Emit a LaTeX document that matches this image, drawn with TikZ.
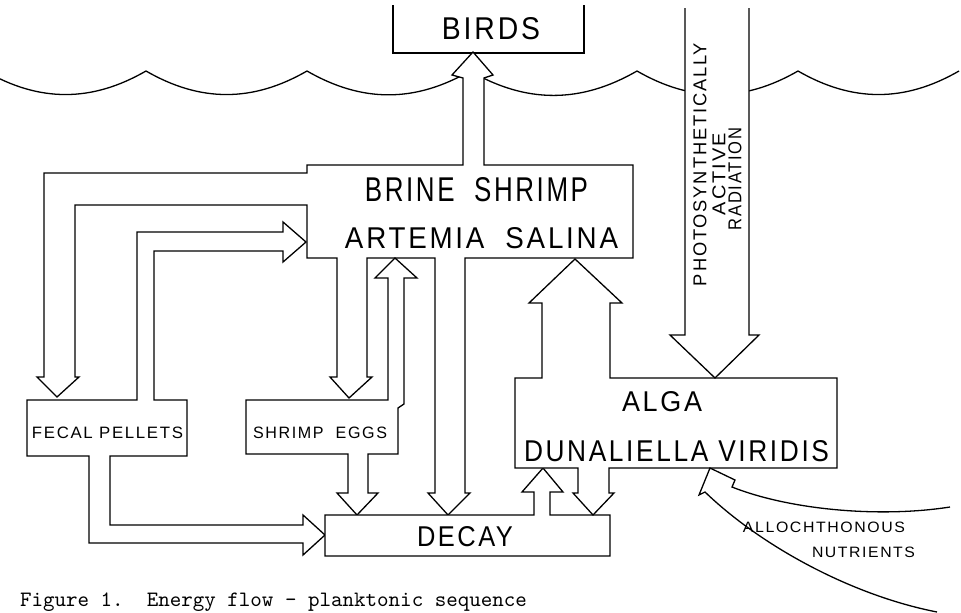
\documentclass[tikz,border=0pt]{standalone}
\usepackage{fontspec}
\usepackage{graphicx}
\newfontfamily\lett[LetterSpace=10]{Liberation Sans}
\begin{document}
\begin{tikzpicture}[x=1pt,y=-1pt,
  ink/.style={draw=black, line width=1.3pt, line join=miter},
  shapebox/.style={ink, fill=white},
  wave/.style={draw=black, line width=1.3pt},
  lbl/.style={inner sep=0pt, outer sep=0pt, text=black}]
\useasboundingbox[fill=white] (0,0) rectangle (961,613);

% water surface
\draw[wave] (-15,71) to[bend right=30] (146,71) to[bend right=30] (307,71)
  to[bend right=30] (470,71) to[bend right=30] (637,71)
  to[bend right=30] (798,71) to[bend right=30] (959,71);

% birds box (open at top)
\draw[ink] (393,5) -- (393,53) -- (584,53) -- (584,5);

% brine shrimp box with its outgoing arrows
\draw[shapebox] (473,52) -- (493,75) -- (484,78) -- (484,165) -- (633,165) -- (633,258)
  -- (465,258) -- (465,493) -- (470,493) -- (448,515) -- (428,493) -- (435,493) -- (435,258)
  -- (367,258) -- (367,377) -- (372,377) -- (349,398) -- (330,377) -- (337,377) -- (337,258)
  -- (307,258) -- (307,205) -- (75,205) -- (75,377) -- (79,377) -- (57,397) -- (37,377)
  -- (44,377) -- (44,173) -- (307,173) -- (307,165) -- (463,165) -- (463,78) -- (452,75) -- cycle;

% fecal pellets box with its arrows
\draw[shapebox] (283,232) -- (137,232) -- (137,400) -- (27,400) -- (27,456) -- (89,456)
  -- (89,543) -- (303,543) -- (303,555) -- (325,535) -- (303,515) -- (303,525) -- (110,525)
  -- (110,456) -- (187,456) -- (187,400) -- (154,400) -- (154,251) -- (283,251) -- (283,262)
  -- (306,242) -- (283,222) -- cycle;

% shrimp eggs box with its arrows
\draw[shapebox] (246,400) -- (246,454) -- (348,454) -- (348,493) -- (337,493) -- (357,515)
  -- (378,493) -- (368,493) -- (368,454) -- (398,454) -- (398,408) -- (404,404) -- (404,278)
  -- (417,278) -- (395,258) -- (375,278) -- (388,278) -- (388,400) -- cycle;

% decay box with arrow to alga
\draw[shapebox] (325,515) -- (325,556) -- (610,556) -- (610,515) -- (550,515) -- (550,492)
  -- (563,492) -- (543,468) -- (522,492) -- (534,492) -- (534,515) -- cycle;

% alga box with its arrows
\draw[shapebox] (515,378) -- (515,468) -- (578,468) -- (578,493) -- (573,493) -- (593,515)
  -- (614,493) -- (609,493) -- (609,468) -- (837,468) -- (837,378) -- (610,378) -- (610,303)
  -- (622,303) -- (575,259) -- (529,303) -- (542,303) -- (542,378) -- cycle;

% photosynthetically active radiation arrow
\draw[shapebox] (685,8) -- (685,335) -- (670,335) -- (715,378) -- (759,335) -- (749,335) -- (749,8);

% allochthonous nutrients arrow
\draw[ink] (950,507) .. controls (880,518) and (790,510) .. (732,487) -- (735,480) -- (710,468)
  -- (699,495) -- (705,492) .. controls (760,545) and (850,595) .. (937,612);

% labels
\node[lbl] (birds) at (491,29) {\resizebox{98pt}{22pt}{\lett BIRDS}};
\node[lbl] (brine) at (476.5,190) {\resizebox{223pt}{24pt}{\lett BRINE\ \ SHRIMP}};
\node[lbl] (artemia) at (481.5,238.5) {\resizebox{273pt}{21pt}{\lett ARTEMIA\ \ SALINA}};
\node[lbl] (fecal) at (107.5,432.5) {\resizebox{151pt}{11.5pt}{\lett FECAL PELLETS}};
\node[lbl] (eggs) at (320,432.5) {\resizebox{134pt}{11.5pt}{\lett SHRIMP\ \ EGGS}};
\node[lbl] (alga) at (662,402) {\resizebox{80pt}{20pt}{\lett ALGA}};
\node[lbl] (dunaliella) at (676.5,451.5) {\resizebox{305pt}{21pt}{\lett DUNALIELLA VIRIDIS}};
\node[lbl] (decay) at (465,537) {\resizebox{96pt}{20pt}{\lett DECAY}};
\node[lbl, rotate=90] (photo) at (700,164.5) {\resizebox{243pt}{13pt}{\lett PHOTOSYNTHETICALLY}};
\node[lbl, rotate=90] (active) at (719,174) {\resizebox{82pt}{13pt}{\lett ACTIVE}};
\node[lbl, rotate=90] (radiation) at (735,179) {\resizebox{102pt}{13pt}{\lett RADIATION}};
\node[lbl] (alloch) at (824,527) {\resizebox{162pt}{10.5pt}{\lett ALLOCHTHONOUS}};
\node[lbl] (nutr) at (863.5,552) {\resizebox{103pt}{10.5pt}{\lett NUTRIENTS}};
\node[lbl, anchor=base west] (caption) at (20,606)
  {\resizebox{507pt}{!}{\ttfamily Figure 1.\ \ Energy flow - planktonic sequence}};
\end{tikzpicture}
\end{document}
